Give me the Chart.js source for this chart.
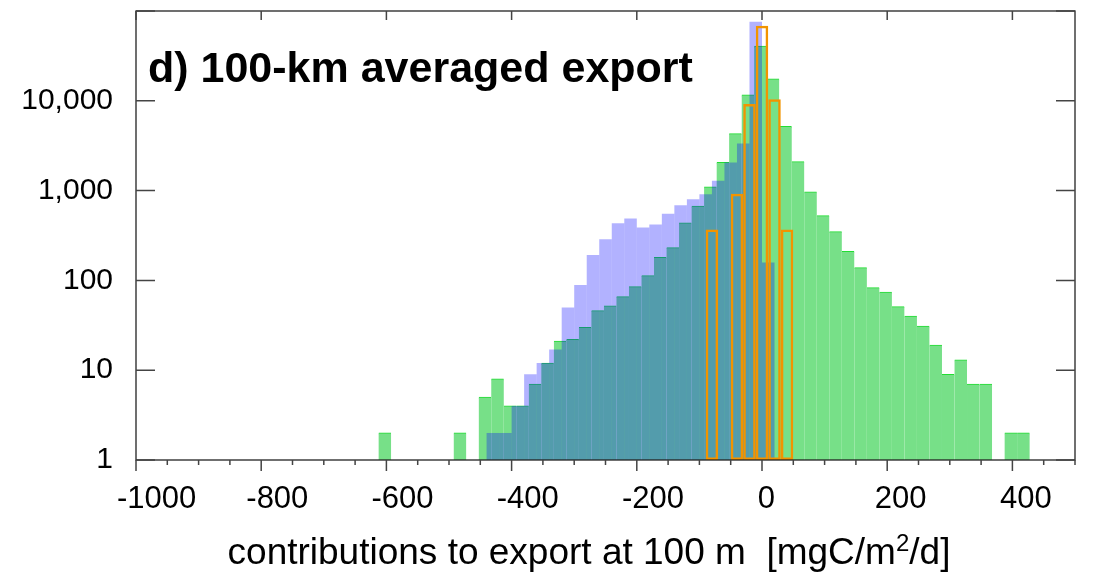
<!DOCTYPE html>
<html>
<head>
<meta charset="utf-8">
<title>100-km averaged export</title>
<script src="https://cdn.jsdelivr.net/npm/chart.js@4"></script>
<style>
  body { margin: 0; background: #fff; }
  #wrap { position: relative; width: 1110px; height: 576px; }
  #panel { position: absolute; left: 148px; top: 46px; font: bold 43px 'Liberation Sans', Arial, sans-serif; line-height: 43px; color: #000; }
  #xlabel { position: absolute; left: 0; top: 533px; width: 1178px; text-align: center; font: 37px 'Liberation Sans', Arial, sans-serif; line-height: 37px; color: #000; white-space: nowrap; }
  #xlabel sup { font-size: 24px; line-height: 0; }
</style>
</head>
<body>
<div id="wrap">
  <canvas id="chart" width="1110" height="576"></canvas>
  <div id="panel">d) 100-km averaged export</div>
  <div id="xlabel">contributions to export at 100 m&nbsp; [mgC/m<sup>2</sup>/d]</div>
</div>
<script>
// green histogram (bin centres, counts)
const greenX = [-602.5, -482.5, -442.5, -422.5, -402.5, -382.5, -362.5, -342.5, -322.5, -302.5,
  -282.5, -262.5, -242.5, -222.5, -202.5, -182.5, -162.5, -142.5, -122.5, -102.5,
  -82.5, -62.5, -42.5, -22.5, -2.5, 17.5, 37.5, 57.5, 77.5, 97.5,
  117.5, 137.5, 157.5, 177.5, 197.5, 217.5, 237.5, 257.5, 277.5, 297.5,
  317.5, 337.5, 357.5, 397.5, 417.5];
const greenN = [2, 2, 5, 8, 4, 4, 7, 12, 21, 22,
  30, 46, 52, 66, 85, 113, 180, 232, 438, 673,
  1100, 2060, 4300, 11600, 40500, 17500, 5200, 2100, 970, 527,
  350, 210, 139, 83, 74, 51, 40, 31, 19, 9,
  13, 7, 7, 2, 2];

// blue histogram (drawn translucent over the green)
const blueX = [-430, -410, -390, -370, -350, -330, -310, -290, -270, -250, -230, -210,
  -190, -170, -150, -130, -110, -90, -70, -50, -30, -10, 10];
const blueN = [2, 2, 4, 9, 12, 17, 50, 89, 192, 288, 434, 488,
  388, 420, 553, 688, 800, 910, 1290, 2060, 3350, 76000, 158];

// orange outline histogram
const orangeX = [-80, -40, -20, 0, 20, 40];
const orangeN = [369, 923, 9200, 68500, 10400, 369];

const xMajorTicks = [-1000, -800, -600, -400, -200, 0, 200, 400];
const yTicks = [1, 10, 100, 1000, 10000];
const yTickMarks = [1, 10, 100, 1000, 10000, 100000];

const FONT = "'Liberation Sans', Arial, sans-serif";
const pts = (xs, ys) => xs.map((x, i) => ({ x: x, y: ys[i] }));

// frame, tick marks and x labels like the original plot
const frameAndTicks = {
  id: 'frameAndTicks',
  afterDraw(chart) {
    const { ctx, chartArea: a, scales: { x, y } } = chart;
    ctx.save();
    ctx.strokeStyle = '#222';
    ctx.lineWidth = 1.3;
    ctx.strokeRect(a.left, a.top, a.right - a.left, a.bottom - a.top);
    ctx.lineWidth = 1.5;
    ctx.strokeStyle = '#444';
    ctx.beginPath();
    for (let v = x.min; v <= x.max; v += 50) {
      const px = x.getPixelForValue(v);
      const len = xMajorTicks.includes(v) ? 11 : 5;
      ctx.moveTo(px, a.bottom); ctx.lineTo(px, a.bottom + len);
    }
    xMajorTicks.forEach(v => {
      const px = x.getPixelForValue(v);
      ctx.moveTo(px, a.top); ctx.lineTo(px, a.top + 9);
    });
    yTickMarks.forEach(v => {
      const py = y.getPixelForValue(v);
      ctx.moveTo(a.left, py); ctx.lineTo(a.left + 19, py);
      ctx.moveTo(a.right - 19, py); ctx.lineTo(a.right, py);
    });
    ctx.stroke();
    // x labels sit a bit right of their ticks in the original
    ctx.fillStyle = '#000';
    ctx.font = '31px ' + FONT;
    ctx.textAlign = 'left';
    ctx.textBaseline = 'middle';
    xMajorTicks.forEach(v => {
      const t = String(v);
      const w = ctx.measureText(t).width;
      ctx.fillText(t, x.getPixelForValue(v) - 0.24 * w, a.bottom + 39);
    });
    ctx.restore();
  }
};

const hiddenX = { type: 'linear', min: -1000, max: 500, offset: false, display: false };

new Chart(document.getElementById('chart'), {
  type: 'bar',
  data: {
    datasets: [
      {
        label: 'orange',
        data: pts(orangeX, orangeN),
        xAxisID: 'xo',
        order: 1,
        backgroundColor: 'rgba(0,0,0,0)',
        borderColor: '#f29400',
        borderWidth: 2.5,
        borderSkipped: false,
        inflateAmount: 0
      },
      {
        label: 'blue',
        data: pts(blueX, blueN),
        xAxisID: 'xb',
        order: 2,
        backgroundColor: 'rgba(0,0,255,0.3)',
        borderWidth: 0,
        inflateAmount: 0
      },
      {
        label: 'green',
        data: pts(greenX, greenN),
        xAxisID: 'x',
        order: 3,
        backgroundColor: '#77e088',
        borderColor: '#22dd33',
        borderWidth: { top: 1, right: 0, bottom: 0, left: 0 },
        inflateAmount: 0.4
      }
    ]
  },
  options: {
    responsive: false,
    animation: false,
    devicePixelRatio: 1,
    grouped: false,
    barPercentage: 1,
    categoryPercentage: 1,
    layout: { padding: { top: 11, right: 35, left: 0, bottom: 0 } },
    plugins: { legend: { display: false }, tooltip: { enabled: false } },
    scales: {
      x: {
        type: 'linear', position: 'bottom', min: -1000, max: 500, offset: false,
        grid: { display: false, drawTicks: false },
        border: { display: false },
        afterBuildTicks: s => { s.ticks = xMajorTicks.map(v => ({ value: v })); },
        afterFit: s => { s.height = 116; s.paddingLeft = 0; s.paddingRight = 0; },
        ticks: { display: false }
      },
      xb: hiddenX,
      xo: hiddenX,
      y: {
        type: 'logarithmic', position: 'left', min: 1, max: 100000,
        grid: { display: false, drawTicks: false },
        border: { display: false },
        afterBuildTicks: s => { s.ticks = yTicks.map(v => ({ value: v })); },
        afterFit: s => { s.width = 136; s.paddingTop = 0; s.paddingBottom = 0; },
        ticks: {
          callback: v => Number(v).toLocaleString('en-US'),
          color: '#000', padding: 23,
          font: { family: FONT, size: 30 }
        }
      }
    }
  },
  plugins: [frameAndTicks]
});
</script>
</body>
</html>
